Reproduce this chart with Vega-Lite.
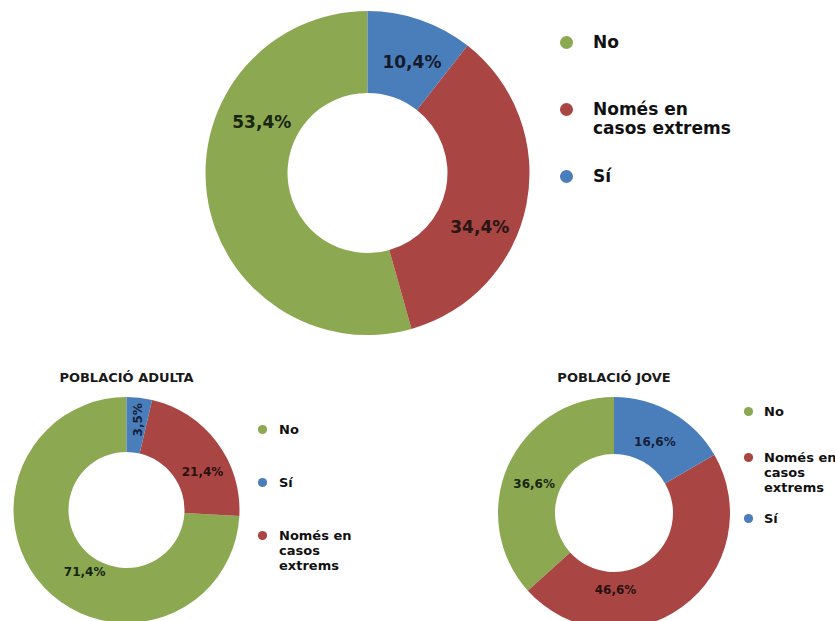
{
  "$schema": "https://vega.github.io/schema/vega-lite/v6.json",
  "background": "white",
  "padding": 0,
  "bounds": "flush",
  "spacing": 51,
  "config": {
    "view": {"stroke": null},
    "font": "DejaVu Sans",
    "locale": {"number": {"decimal": ",", "thousands": ".", "grouping": [3], "currency": ["", " €"]}}
  },
  "datasets": {
    "total": [
      {"resposta": "No", "pct": 0.534},
      {"resposta": "Només en casos extrems", "pct": 0.344},
      {"resposta": "Sí", "pct": 0.104}
    ],
    "adulta": [
      {"resposta": "No", "pct": 0.714},
      {"resposta": "Només en casos extrems", "pct": 0.214},
      {"resposta": "Sí", "pct": 0.035}
    ],
    "jove": [
      {"resposta": "No", "pct": 0.366},
      {"resposta": "Només en casos extrems", "pct": 0.466},
      {"resposta": "Sí", "pct": 0.166}
    ]
  },
  "resolve": {"scale": {"color": "independent", "theta": "independent"}, "legend": {"color": "independent"}},
  "vconcat": [
    {
      "width": 735,
      "height": 346,
      "data": {"name": "total"},
      "encoding": {
        "theta": {"field": "pct", "type": "quantitative", "stack": true},
        "order": {"field": "resposta", "type": "ordinal", "sort": "descending"}
      },
      "layer": [
        {
          "mark": {"type": "arc", "outerRadius": 162, "innerRadius": 80},
          "encoding": {
            "color": {
              "field": "resposta", "type": "nominal",
              "scale": {"domain": ["No", "Només en casos extrems", "Sí"], "range": ["#8CA952", "#A94643", "#4A7EBB"]},
              "legend": {
                "title": null, "orient": "none", "legendX": 558, "legendY": 34,
                "symbolType": "circle", "symbolSize": 170, "symbolStrokeWidth": 0,
                "labelFont": "DejaVu Sans", "labelFontSize": 17, "labelFontWeight": "bold", "labelColor": "#111111",
                "labelOffset": 18, "labelLimit": 400, "rowPadding": 30,
                "labelExpr": "datum.label == 'Només en casos extrems' ? ['Només en', 'casos extrems'] : (datum.label == 'No' ? ['No', ''] : datum.label)"
              }
            }
          }
        },
        {
          "mark": {"type": "text", "radius": 119, "thetaOffset": 0.05, "font": "DejaVu Sans", "fontSize": 17, "fontWeight": "bold", "color": "#151a2a"},
          "encoding": {
            "detail": {"field": "resposta", "type": "nominal"},
            "text": {"condition": {"test": "datum.resposta == 'Sí'", "field": "pct", "type": "quantitative", "format": ".1%"}, "value": ""}
          }
        },
        {
          "mark": {"type": "text", "radius": 125, "thetaOffset": 0.26, "font": "DejaVu Sans", "fontSize": 17, "fontWeight": "bold", "color": "#2a1515"},
          "encoding": {
            "detail": {"field": "resposta", "type": "nominal"},
            "text": {"condition": {"test": "datum.resposta == 'Només en casos extrems'", "field": "pct", "type": "quantitative", "format": ".1%"}, "value": ""}
          }
        },
        {
          "mark": {"type": "text", "radius": 117, "thetaOffset": 0.58, "font": "DejaVu Sans", "fontSize": 17, "fontWeight": "bold", "color": "#182510"},
          "encoding": {
            "detail": {"field": "resposta", "type": "nominal"},
            "text": {"condition": {"test": "datum.resposta == 'No'", "field": "pct", "type": "quantitative", "format": ".1%"}, "value": ""}
          }
        }
      ]
    },
    {
      "bounds": "flush",
      "spacing": 245,
      "resolve": {"scale": {"color": "independent", "theta": "independent"}, "legend": {"color": "independent"}},
      "hconcat": [
        {
          "width": 253,
          "height": 226,
          "title": {"text": "POBLACIÓ ADULTA", "font": "DejaVu Sans", "fontSize": 13, "fontWeight": "bold", "color": "#1a1a1a", "anchor": "middle", "offset": 12},
          "data": {"name": "adulta"},
          "encoding": {
            "theta": {"field": "pct", "type": "quantitative", "stack": true},
            "order": {"field": "resposta", "type": "ordinal", "sort": "descending"}
          },
          "layer": [
            {
              "mark": {"type": "arc", "outerRadius": 113, "innerRadius": 58},
              "encoding": {
                "color": {
                  "field": "resposta", "type": "nominal",
                  "scale": {"domain": ["No", "Sí", "Només en casos extrems"], "range": ["#8CA952", "#4A7EBB", "#A94643"]},
                  "legend": {
                    "title": null, "orient": "none", "legendX": 256, "legendY": 26,
                    "symbolType": "circle", "symbolSize": 85, "symbolStrokeWidth": 0,
                    "labelFont": "DejaVu Sans", "labelFontSize": 13, "labelFontWeight": "bold", "labelColor": "#111111",
                    "labelOffset": 10, "labelLimit": 400, "rowPadding": 39,
                    "labelExpr": "datum.label == 'Només en casos extrems' ? ['Només en', 'casos', 'extrems'] : datum.label"
                  }
                }
              }
            },
            {
              "mark": {"type": "text", "radius": 91, "thetaOffset": 0.014, "angle": 270, "font": "DejaVu Sans", "fontSize": 12, "fontWeight": "bold", "color": "#15203a"},
              "encoding": {
                "detail": {"field": "resposta", "type": "nominal"},
                "text": {"condition": {"test": "datum.resposta == 'Sí'", "field": "pct", "type": "quantitative", "format": ".1%"}, "value": ""}
              }
            },
            {
              "mark": {"type": "text", "radius": 85, "thetaOffset": 0.18, "font": "DejaVu Sans", "fontSize": 12, "fontWeight": "bold", "color": "#2a1010"},
              "encoding": {
                "detail": {"field": "resposta", "type": "nominal"},
                "text": {"condition": {"test": "datum.resposta == 'Només en casos extrems'", "field": "pct", "type": "quantitative", "format": ".1%"}, "value": ""}
              }
            },
            {
              "mark": {"type": "text", "radius": 75, "thetaOffset": -0.22, "font": "DejaVu Sans", "fontSize": 12, "fontWeight": "bold", "color": "#152510"},
              "encoding": {
                "detail": {"field": "resposta", "type": "nominal"},
                "text": {"condition": {"test": "datum.resposta == 'No'", "field": "pct", "type": "quantitative", "format": ".1%"}, "value": ""}
              }
            }
          ]
        },
        {
          "width": 232,
          "height": 232,
          "title": {"text": "POBLACIÓ JOVE", "font": "DejaVu Sans", "fontSize": 13, "fontWeight": "bold", "color": "#1a1a1a", "anchor": "middle", "offset": 12},
          "data": {"name": "jove"},
          "encoding": {
            "theta": {"field": "pct", "type": "quantitative", "stack": true},
            "order": {"field": "resposta", "type": "ordinal", "sort": "descending"}
          },
          "layer": [
            {
              "mark": {"type": "arc", "outerRadius": 116, "innerRadius": 59},
              "encoding": {
                "color": {
                  "field": "resposta", "type": "nominal",
                  "scale": {"domain": ["No", "Només en casos extrems", "Sí"], "range": ["#8CA952", "#A94643", "#4A7EBB"]},
                  "legend": {
                    "title": null, "orient": "none", "legendX": 244, "legendY": 8,
                    "symbolType": "circle", "symbolSize": 85, "symbolStrokeWidth": 0,
                    "labelFont": "DejaVu Sans", "labelFontSize": 13, "labelFontWeight": "bold", "labelColor": "#111111",
                    "labelOffset": 9, "labelLimit": 400, "rowPadding": 17,
                    "labelExpr": "datum.label == 'Només en casos extrems' ? ['Només en', 'casos', 'extrems'] : (datum.label == 'No' ? ['No', ''] : datum.label)"
                  }
                }
              }
            },
            {
              "mark": {"type": "text", "radius": 82, "font": "DejaVu Sans", "fontSize": 12, "fontWeight": "bold", "color": "#15203a"},
              "encoding": {
                "detail": {"field": "resposta", "type": "nominal"},
                "text": {"condition": {"test": "datum.resposta == 'Sí'", "field": "pct", "type": "quantitative", "format": ".1%"}, "value": ""}
              }
            },
            {
              "mark": {"type": "text", "radius": 77, "thetaOffset": 0.61, "font": "DejaVu Sans", "fontSize": 12, "fontWeight": "bold", "color": "#2a1010"},
              "encoding": {
                "detail": {"field": "resposta", "type": "nominal"},
                "text": {"condition": {"test": "datum.resposta == 'Només en casos extrems'", "field": "pct", "type": "quantitative", "format": ".1%"}, "value": ""}
              }
            },
            {
              "mark": {"type": "text", "radius": 85, "thetaOffset": -0.07, "font": "DejaVu Sans", "fontSize": 12, "fontWeight": "bold", "color": "#152510"},
              "encoding": {
                "detail": {"field": "resposta", "type": "nominal"},
                "text": {"condition": {"test": "datum.resposta == 'No'", "field": "pct", "type": "quantitative", "format": ".1%"}, "value": ""}
              }
            }
          ]
        }
      ]
    }
  ]
}
